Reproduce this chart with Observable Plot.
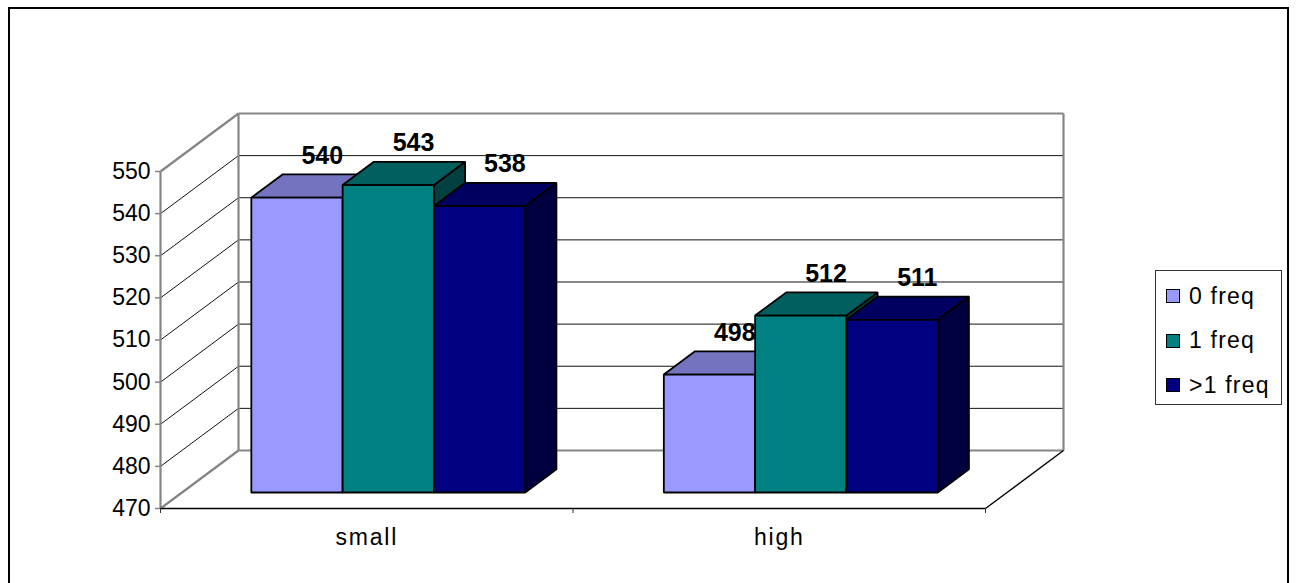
<!DOCTYPE html>
<html>
<head>
<meta charset="utf-8">
<script src="https://cdn.jsdelivr.net/npm/d3@7"></script>
<script src="https://cdn.jsdelivr.net/npm/@observablehq/plot@0.6"></script>
<style>
  html, body { margin: 0; padding: 0; background: #fff; overflow: hidden; }
  #wrap { position: relative; width: 1296px; height: 583px; font-family: "Liberation Sans", Arial, sans-serif; }
  #frame { position: absolute; left: 8px; top: 7px; width: 1281px; height: 620px; border: 2px solid #000; box-sizing: border-box; pointer-events: none; }
  #chart { position: absolute; left: 0; top: 0; }
  #legend { position: absolute; left: 1155px; top: 270px; width: 127px; height: 135px; border: 1.5px solid #333; box-sizing: border-box; background: #fff; }
  .item { position: absolute; left: 10px; height: 26px; display: flex; align-items: center; font-size: 23px; letter-spacing: 1.2px; color: #000; }
  .sw { width: 14px; height: 14px; border: 1.5px solid #000; box-sizing: border-box; margin-right: 9px; }
  .lbl text.cat { letter-spacing: 1.8px; }
</style>
</head>
<body>
<div id="wrap">
  <div id="chart"></div>
  <div id="legend"></div>
  <div id="frame"></div>
</div>
<script>
// Categories, series and values of the grouped 3-D column chart
const categories = ["small", "high"];
const series = ["0 freq", "1 freq", ">1 freq"];
const freq0 = [540, 498];
const freq1 = [543, 512];
const freqMore = [538, 511];
const yTicks = [470, 480, 490, 500, 510, 520, 530, 540, 550];

// Face colours per series (front, top, side)
const frontColors = ["#9999FF", "#008080", "#000080"];
const topColors = ["#7373BF", "#006060", "#000060"];
const sideColors = ["#4D4D80", "#004040", "#000040"];

const seriesValues = [freq0, freq1, freqMore];
const yMin = yTicks[0], yMax = yTicks[yTicks.length - 1];

// Oblique projection: depth 0..1 shifts a point right and up (in data units)
const KX = 0.18909;   // category units per full depth
const KY = 13.77;     // value units per full depth
const D0 = 0.276, D1 = 0.676;   // front and back depth of the columns
const GROUP = 0.664, BAR = GROUP / 3;

const P = (x, v, d) => ({x: x + d * KX, y: v + d * KY});

// Closed polygons for every column face, painted left to right
const faces = [];
const bars = [];
categories.forEach((cat, i) => {
  series.forEach((s, j) => {
    const v = seriesValues[j][i];
    const x1 = i + 0.5 - GROUP / 2 + j * BAR, x2 = x1 + BAR;
    const poly = (id, fill, pts) => pts.forEach(p => faces.push({...p, id, fill}));
    poly(`${cat}-${s}-side`, sideColors[j], [P(x2, yMin, D0), P(x2, yMin, D1), P(x2, v, D1), P(x2, v, D0)]);
    poly(`${cat}-${s}-top`, topColors[j], [P(x1, v, D0), P(x2, v, D0), P(x2, v, D1), P(x1, v, D1)]);
    poly(`${cat}-${s}-front`, frontColors[j], [P(x1, yMin, D0), P(x2, yMin, D0), P(x2, v, D0), P(x1, v, D0)]);
    const lab = P((x1 + x2) / 2, v, 0.6);
    bars.push({x: lab.x, y: lab.y + 5.5, text: String(v)});
  });
});

const n = categories.length;
const inner = yTicks.slice(1, -1);
const edges = [yMin, yMax];

// Back wall horizontal gridlines and side wall diagonals
const backLine = v => ({x1: KX, y1: v + KY, x2: n + KX, y2: v + KY});
const sideLine = v => ({x1: 0, y1: v, x2: KX, y2: v + KY});
const wallInner = [...inner.map(backLine), ...inner.map(sideLine)];
const wallEdges = [
  ...edges.map(backLine), ...edges.map(sideLine),
  {x1: KX, y1: yMin + KY, x2: KX, y2: yMax + KY},
  {x1: n + KX, y1: yMin + KY, x2: n + KX, y2: yMax + KY},
  {x1: 0, y1: yMin, x2: 0, y2: yMax}
];
const floorEdges = [
  {x1: 0, y1: yMin, x2: n, y2: yMin},
  {x1: n, y1: yMin, x2: n + KX, y2: yMin + KY}
];

const chart = Plot.plot({
  width: 1296,
  height: 583,
  marginLeft: 160,
  marginRight: 233,
  marginTop: 113,
  marginBottom: 75,
  x: {domain: [0, n + KX]},
  y: {domain: [yMin, yMax + KY]},
  color: {type: "identity"},
  style: {fontFamily: "'Liberation Sans', Arial, sans-serif", background: "transparent", color: "#000"},
  marks: [
    Plot.link(wallInner, {x1: "x1", y1: "y1", x2: "x2", y2: "y2", stroke: "#111", strokeWidth: 1}),
    Plot.link(wallEdges, {x1: "x1", y1: "y1", x2: "x2", y2: "y2", stroke: "#858585", strokeWidth: 2.2}),
    Plot.link(floorEdges, {x1: "x1", y1: "y1", x2: "x2", y2: "y2", stroke: "#000", strokeWidth: 1.4}),
    Plot.line(faces, {x: "x", y: "y", z: "id", fill: "fill", stroke: "#000", strokeWidth: 1.8,
      curve: "linear-closed", strokeLinejoin: "miter", strokeLinecap: "butt"}),
    Plot.text(bars, {x: "x", y: "y", text: "text", fontSize: 25, fontWeight: "bold", fill: "#000"}),
    Plot.axisY(yTicks, {tickSize: 5, tickPadding: 5, fontSize: 23, stroke: "#858585", strokeWidth: 1.5}),
    Plot.axisX(d3.range(n + 1), {tickSize: 5, tickFormat: () => "", stroke: "#333"}),
    Plot.axisX(categories.map((c, i) => i + 0.5), {tickSize: 0, tickPadding: 20, fontSize: 23,
      tickFormat: t => categories[Math.floor(t)], className: "lbl"})
  ]
});
document.getElementById("chart").appendChild(chart);
chart.querySelectorAll(".lbl text").forEach(t => t.classList.add("cat"));

// Legend box at the right of the plot
const legend = document.getElementById("legend");
series.forEach((s, j) => {
  const item = document.createElement("div");
  item.className = "item";
  item.style.top = `${12 + j * 44.5}px`;
  item.innerHTML = `<span class="sw" style="background:${frontColors[j]}"></span><span></span>`;
  item.lastChild.textContent = s;
  legend.appendChild(item);
});
</script>
</body>
</html>
